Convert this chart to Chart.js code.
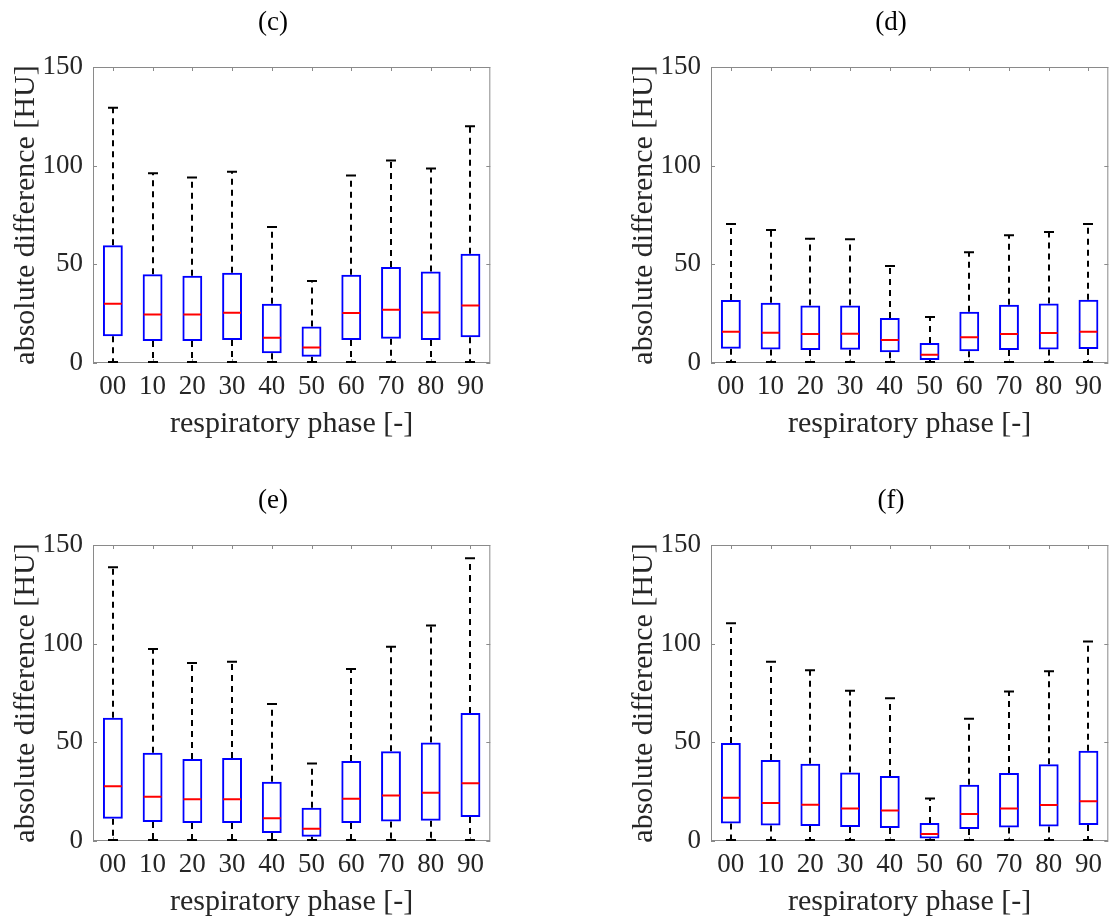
<!DOCTYPE html>
<html><head><meta charset="utf-8">
<script src="https://cdn.jsdelivr.net/npm/chart.js@4.4.1/dist/chart.umd.min.js"></script>
<style>
html,body{margin:0;padding:0;background:#fff;overflow:hidden;width:1110px;height:920px;}
canvas{position:absolute;}
</style></head><body>
<canvas id="pc" width="492" height="442" style="left:0;top:0"></canvas>
<canvas id="pd" width="492" height="442" style="left:618px;top:0"></canvas>
<canvas id="pe" width="492" height="442" style="left:0;top:478px"></canvas>
<canvas id="pf" width="492" height="442" style="left:618px;top:478px"></canvas>
<script>
// ---- data ----
const phases = ['00','10','20','30','40','50','60','70','80','90'];
const yTicks = [0, 50, 100, 150];
const xTitle = 'respiratory phase [-]';
const yTitle = 'absolute difference [HU]';

// panel (c)
const cMax = [129.3, 96.2, 94.0, 96.9, 68.9, 41.6, 95.0, 102.6, 98.6, 120.0];
const cQ3  = [59.7, 45.0, 44.2, 45.7, 30.0, 18.5, 44.7, 48.7, 46.4, 55.3];
const cMed = [30.0, 24.6, 24.6, 25.5, 12.8, 7.9, 25.3, 27.0, 25.6, 29.2];
const cQ1  = [13.5, 11.1, 11.1, 11.6, 4.9, 3.2, 11.6, 12.3, 11.6, 13.0];
const cMin = [0, 0, 0, 0, 0, 0, 0, 0, 0, 0];
// panel (d)
const dMax = [70.5, 67.4, 63.0, 62.7, 49.2, 23.3, 56.1, 64.7, 66.4, 70.5];
const dQ3  = [31.9, 30.5, 29.2, 29.2, 22.8, 10.1, 26.0, 29.5, 30.2, 32.0];
const dMed = [15.8, 15.3, 14.7, 14.8, 11.6, 4.2, 13.0, 14.7, 15.2, 15.8];
const dQ1  = [7.2, 6.9, 6.6, 6.7, 5.4, 1.5, 5.9, 6.6, 6.9, 7.1];
const dMin = [0, 0, 0, 0, 0, 0, 0, 0, 0, 0];
// panel (e)
const eMax = [138.7, 97.3, 90.2, 90.8, 69.4, 39.3, 87.1, 98.4, 109.2, 143.3];
const eQ3  = [62.4, 44.7, 41.6, 42.1, 30.0, 16.9, 40.5, 45.5, 49.9, 64.9];
const eMed = [27.8, 22.4, 21.2, 21.2, 11.5, 6.2, 21.4, 23.1, 24.4, 29.3];
const eQ1  = [11.3, 9.6, 9.1, 9.1, 4.0, 2.2, 9.1, 9.9, 10.3, 12.1];
const eMin = [0, 0, 0, 0, 0, 0, 0, 0, 0, 0];
// panel (f)
const fMax = [110.4, 90.8, 86.5, 76.2, 72.3, 21.6, 61.9, 75.8, 86.0, 101.1];
const fQ3  = [49.7, 41.1, 39.1, 34.7, 32.9, 9.1, 28.5, 34.4, 38.9, 45.7];
const fMed = [21.9, 19.2, 18.4, 16.5, 15.5, 3.5, 13.7, 16.5, 18.2, 20.2];
const fQ1  = [8.9, 7.8, 7.6, 7.1, 6.6, 1.3, 6.1, 6.9, 7.4, 8.1];
const fMin = [0, 0, 0, 0, 0, 0, 0, 0, 0, 0];

// ---- drawing ----
const FONT = "'Liberation Serif', 'Times New Roman', serif";
const TXT = '#262626';
const AXC = '#8a8a8a';

const boxExtras = {
  id: 'boxExtras',
  beforeDatasetsDraw(chart) {
    const o = chart.options.plugins.boxExtras;
    const {ctx, chartArea: a, scales: {x, y}} = chart;
    ctx.save();
    // frame + inside ticks
    ctx.strokeStyle = AXC; ctx.lineWidth = 1;
    ctx.strokeRect(a.left + 0.5, a.top + 0.5, a.right - a.left - 1, a.bottom - a.top - 1);
    ctx.beginPath();
    x.ticks.forEach((t, i) => {
      const px = Math.round(x.getPixelForTick(i)) + 0.5;
      ctx.moveTo(px, a.top); ctx.lineTo(px, a.top + 4);
      ctx.moveTo(px, a.bottom); ctx.lineTo(px, a.bottom - 4);
    });
    y.ticks.forEach((t, i) => {
      const py = Math.round(y.getPixelForTick(i)) + 0.5;
      ctx.moveTo(a.left, py); ctx.lineTo(a.left + 4, py);
      ctx.moveTo(a.right, py); ctx.lineTo(a.right - 4, py);
    });
    ctx.stroke();
    // whiskers
    ctx.strokeStyle = '#000'; ctx.lineWidth = 2;
    for (let i = 0; i < o.max.length; i++) {
      const cx = Math.round(x.getPixelForValue(i));
      ctx.setLineDash([6, 5]);
      ctx.beginPath();
      ctx.moveTo(cx, y.getPixelForValue(o.q3[i])); ctx.lineTo(cx, y.getPixelForValue(o.max[i]));
      ctx.moveTo(cx, y.getPixelForValue(o.q1[i])); ctx.lineTo(cx, y.getPixelForValue(o.min[i]));
      ctx.stroke();
      ctx.setLineDash([]);
      ctx.beginPath();
      const yt = y.getPixelForValue(o.max[i]), yb = y.getPixelForValue(o.min[i]);
      ctx.moveTo(cx - 5, yt); ctx.lineTo(cx + 5, yt);
      ctx.moveTo(cx - 5, yb - 1); ctx.lineTo(cx + 5, yb - 1);
      ctx.stroke();
    }
    ctx.restore();
  },
  afterDatasetsDraw(chart) {
    const o = chart.options.plugins.boxExtras;
    const {ctx, scales: {x, y}, chartArea: a} = chart;
    const meta = chart.getDatasetMeta(0);
    ctx.save();
    ctx.strokeStyle = '#ff0000'; ctx.lineWidth = 2;
    ctx.beginPath();
    meta.data.forEach((bar, i) => {
      const py = y.getPixelForValue(o.med[i]);
      ctx.moveTo(bar.x - bar.width / 2 + 1, py); ctx.lineTo(bar.x + bar.width / 2 - 1, py);
    });
    ctx.stroke();
    // panel title
    ctx.fillStyle = '#000';
    ctx.font = '27px ' + FONT;
    ctx.textAlign = 'center'; ctx.textBaseline = 'middle';
    ctx.fillText(o.title, a.left + 180, 23);
    ctx.restore();
  }
};

function makePanel(id, title, mx, q3, md, q1, mn) {
  new Chart(document.getElementById(id), {
    type: 'bar',
    data: {
      labels: phases,
      datasets: [{
        data: phases.map((p, i) => [q1[i], q3[i]]),
        backgroundColor: 'rgba(255,255,255,0)',
        borderColor: '#0000ff',
        borderWidth: 2,
        borderSkipped: false,
        barPercentage: 0.5,
        categoryPercentage: 1.0
      }]
    },
    options: {
      responsive: false,
      animation: false,
      layout: {padding: {top: 67, right: 1, left: 0, bottom: 0}},
      plugins: {
        legend: {display: false},
        tooltip: {enabled: false},
        boxExtras: {title: title, max: mx, q3: q3, med: md, q1: q1, min: mn}
      },
      scales: {
        x: {
          type: 'category',
          offset: true,
          grid: {display: false, drawTicks: false},
          border: {display: false},
          ticks: {color: TXT, font: {family: FONT, size: 27}, padding: 8, maxRotation: 0, autoSkip: false},
          title: {display: true, text: xTitle, color: TXT, font: {family: FONT, size: 30}, padding: {top: 1, bottom: 0}},
          afterFit(s) { s.height = 79; }
        },
        y: {
          min: 0, max: 150,
          afterBuildTicks(s) { s.ticks = yTicks.map(v => ({value: v})); },
          grid: {display: false, drawTicks: false},
          border: {display: false},
          ticks: {color: TXT, font: {family: FONT, size: 27}, padding: 10},
          title: {display: true, text: yTitle, color: TXT, font: {family: FONT, size: 30}, padding: {top: 8, bottom: 0}},
          afterFit(s) { s.width = 93; }
        }
      }
    },
    plugins: [boxExtras]
  });
}

makePanel('pc', '(c)', cMax, cQ3, cMed, cQ1, cMin);
makePanel('pd', '(d)', dMax, dQ3, dMed, dQ1, dMin);
makePanel('pe', '(e)', eMax, eQ3, eMed, eQ1, eMin);
makePanel('pf', '(f)', fMax, fQ3, fMed, fQ1, fMin);
</script>
</body></html>
